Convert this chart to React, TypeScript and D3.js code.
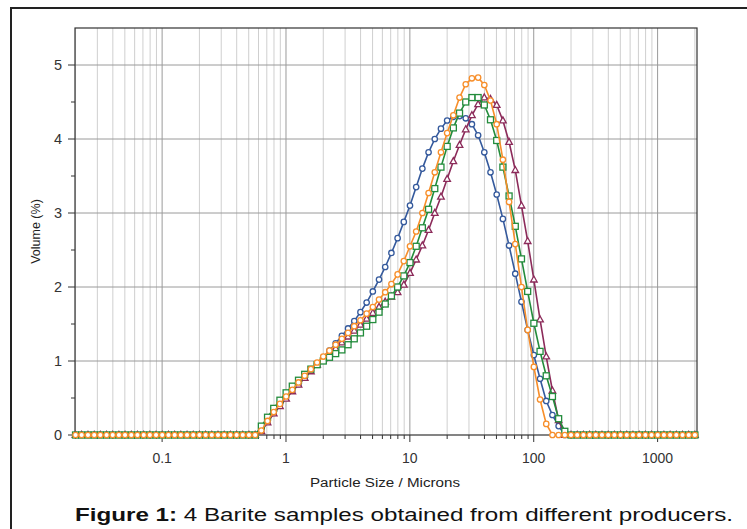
import React from "react";
import * as d3 from "d3";

// size classes (microns), 0.02 -> 2000
const sizeClasses = [
  0.02, 0.0224, 0.0252, 0.0283, 0.0317, 0.0356, 0.0399, 0.0448, 0.0502, 0.0564,
  0.0632, 0.071, 0.0796, 0.0893, 0.1002, 0.1125, 0.1262, 0.1416, 0.1589, 0.1783,
  0.2, 0.2244, 0.2518, 0.2825, 0.317, 0.3557, 0.3991, 0.4477, 0.5024, 0.5637,
  0.6325, 0.7096, 0.7962, 0.8934, 1.0024, 1.1247, 1.2619, 1.4159, 1.5887, 1.7825,
  2.0, 2.244, 2.5179, 2.8251, 3.1698, 3.5566, 3.9905, 4.4774, 5.0238, 5.6368,
  6.3246, 7.0963, 7.9621, 8.9337, 10.0237, 11.2468, 12.6191, 14.1589, 15.8866, 17.825,
  20.0, 22.4404, 25.1785, 28.2508, 31.6979, 35.5656, 39.9052, 44.7744, 50.2377, 56.3677,
  63.2456, 70.9627, 79.6214, 89.3367, 100.2374, 112.4683, 126.1915, 141.5892, 158.8656, 178.2502,
  200.0, 224.4037, 251.7851, 282.5075, 316.9786, 355.6559, 399.0525, 447.7442, 502.3773, 563.6766,
  632.4555, 709.6268, 796.214, 893.3672, 1002.3738, 1124.6827, 1261.9147, 1415.8916, 1588.6564, 1782.5018,
  2000.0,
];

const blueValues = [
  0, 0, 0, 0, 0, 0, 0, 0, 0, 0, 0, 0, 0, 0, 0, 0, 0, 0, 0, 0,
  0, 0, 0, 0, 0, 0, 0, 0, 0, 0, 0.07, 0.19, 0.3, 0.41, 0.51, 0.6, 0.69, 0.78, 0.87, 0.96,
  1.05, 1.14, 1.24, 1.34, 1.44, 1.54, 1.66, 1.79, 1.94, 2.1, 2.27, 2.46, 2.66, 2.88, 3.1, 3.35, 3.6, 3.82, 4.0, 4.14,
  4.25, 4.3, 4.31, 4.28, 4.2, 4.05, 3.82, 3.55, 3.25, 2.92, 2.56, 2.18, 1.8, 1.42, 1.08, 0.76, 0.46, 0.27, 0.12, 0,
  0, 0, 0, 0, 0, 0, 0, 0, 0, 0, 0, 0, 0, 0, 0, 0, 0, 0, 0, 0, 0,
];

const maroonValues = [
  0, 0, 0, 0, 0, 0, 0, 0, 0, 0, 0, 0, 0, 0, 0, 0, 0, 0, 0, 0,
  0, 0, 0, 0, 0, 0, 0, 0, 0, 0, 0.05, 0.17, 0.29, 0.39, 0.49, 0.59, 0.68, 0.77, 0.86, 0.95,
  1.03, 1.1, 1.17, 1.25, 1.33, 1.41, 1.49, 1.57, 1.65, 1.73, 1.8, 1.87, 1.93, 2.03, 2.19, 2.37, 2.56, 2.77, 3.0, 3.22,
  3.46, 3.7, 3.92, 4.13, 4.32, 4.47, 4.56, 4.54, 4.46, 4.25, 3.96, 3.58, 3.1, 2.62, 2.1, 1.56, 1.06, 0.6, 0.2, 0,
  0, 0, 0, 0, 0, 0, 0, 0, 0, 0, 0, 0, 0, 0, 0, 0, 0, 0, 0, 0, 0,
];

const greenValues = [
  0, 0, 0, 0, 0, 0, 0, 0, 0, 0, 0, 0, 0, 0, 0, 0, 0, 0, 0, 0,
  0, 0, 0, 0, 0, 0, 0, 0, 0, 0, 0.12, 0.24, 0.36, 0.47, 0.57, 0.66, 0.74, 0.82, 0.89, 0.95,
  1.0, 1.05, 1.1, 1.15, 1.22, 1.3, 1.38, 1.47, 1.56, 1.66, 1.77, 1.88, 2.0, 2.15, 2.33, 2.55, 2.8, 3.05, 3.33, 3.62,
  3.9, 4.15, 4.35, 4.5, 4.56, 4.56, 4.46, 4.26, 3.98, 3.62, 3.23, 2.82, 2.38, 1.94, 1.51, 1.13, 0.8, 0.52, 0.22, 0.05,
  0, 0, 0, 0, 0, 0, 0, 0, 0, 0, 0, 0, 0, 0, 0, 0, 0, 0, 0, 0, 0,
];

const orangeValues = [
  0, 0, 0, 0, 0, 0, 0, 0, 0, 0, 0, 0, 0, 0, 0, 0, 0, 0, 0, 0,
  0, 0, 0, 0, 0, 0, 0, 0, 0, 0, 0.06, 0.19, 0.31, 0.42, 0.52, 0.61, 0.71, 0.8, 0.89, 0.98,
  1.06, 1.14, 1.22, 1.3, 1.38, 1.47, 1.55, 1.64, 1.73, 1.83, 1.93, 2.04, 2.17, 2.35, 2.55, 2.75, 3.0, 3.27, 3.55, 3.82,
  4.08, 4.32, 4.56, 4.74, 4.82, 4.83, 4.73, 4.52, 4.2, 3.72, 3.15, 2.58, 2.0, 1.42, 0.92, 0.48, 0.15, 0, 0, 0,
  0, 0, 0, 0, 0, 0, 0, 0, 0, 0, 0, 0, 0, 0, 0, 0, 0, 0, 0, 0, 0,
];

const xTickLabels = ["0.1", "1", "10", "100", "1000"];
const yTickLabels = ["0", "1", "2", "3", "4", "5"];

const seriesList = [
  { name: "blue", values: blueValues, color: "#34599c", marker: "circle" },
  { name: "maroon", values: maroonValues, color: "#8c2b5a", marker: "triangle" },
  { name: "green", values: greenValues, color: "#238c3c", marker: "square" },
  { name: "orange", values: orangeValues, color: "#f78e2a", marker: "circle" },
];

const W = 747;
const H = 529;
const left = 75, right = 697, top = 28, bottom = 435;

export default function App() {
  const x = d3.scaleLog().domain([0.0198, 2080]).range([left, right]);
  const y = d3.scaleLinear().domain([0, 5.5]).range([bottom, top]);
  const font = "'Liberation Sans', Arial, sans-serif";

  // log grid: 2..9 x 10^k, decades separately
  const decades = [0.01, 0.1, 1, 10, 100, 1000];
  const minors: number[] = [];
  decades.forEach(dec => {
    for (let m = 2; m <= 9; m++) {
      const v = m * dec;
      if (v > 0.0199 && v < 2080) minors.push(v);
    }
  });
  const majors = xTickLabels.map(Number);
  const yMinor = [0.5, 1.5, 2.5, 3.5, 4.5];

  const line = d3.line<number>()
    .x((_, i) => x(sizeClasses[i]))
    .y(d => y(d));

  const marker = (kind: string, cx: number, cy: number, color: string, key: number) => {
    if (kind === "square")
      return <rect key={key} x={cx - 3} y={cy - 3} width={6} height={6} fill="#fff" stroke={color} strokeWidth={1.3} />;
    if (kind === "triangle")
      return <path key={key} d={`M${cx},${cy - 3.6}L${cx + 3.3},${cy + 2.4}L${cx - 3.3},${cy + 2.4}Z`} fill="#fff" stroke={color} strokeWidth={1.3} />;
    return <circle key={key} cx={cx} cy={cy} r={2.7} fill="#fff" stroke={color} strokeWidth={1.3} />;
  };

  return (
    <svg width={W} height={H} style={{ position: "absolute", left: 0, top: 0, background: "#fff" }} fontFamily={font}>
      <rect x={0} y={0} width={W} height={H} fill="#fff" />
      {/* outer frame */}
      <rect x={11} y={8} width={780} height={620} fill="none" stroke="#222" strokeWidth={2} />

      {/* grid */}
      {minors.map(v => (
        <line key={"mn" + v} x1={x(v)} x2={x(v)} y1={top} y2={bottom} stroke="#cfcfcf" strokeWidth={1} />
      ))}
      {majors.map(v => (
        <line key={"mj" + v} x1={x(v)} x2={x(v)} y1={top} y2={bottom} stroke="#9a9a9a" strokeWidth={1} />
      ))}
      {[1, 2, 3, 4, 5].map(v => (
        <line key={"hy" + v} x1={left} x2={right} y1={y(v)} y2={y(v)} stroke="#9a9a9a" strokeWidth={1} />
      ))}

      {/* plot box */}
      <rect x={left} y={top} width={right - left} height={bottom - top} fill="none" stroke="#333" strokeWidth={1.2} />

      {/* x ticks */}
      {minors.map(v => (
        <line key={"xt" + v} x1={x(v)} x2={x(v)} y1={bottom} y2={bottom + 4} stroke="#333" />
      ))}
      {majors.map((v, i) => (
        <g key={"xl" + v}>
          <line x1={x(v)} x2={x(v)} y1={bottom} y2={bottom + 7} stroke="#333" />
          <text x={x(v)} y={463} textAnchor="middle" fontSize={14} fill="#333">{xTickLabels[i]}</text>
        </g>
      ))}

      {/* y ticks */}
      {yTickLabels.map(t => (
        <g key={"yl" + t}>
          <line x1={left - 7} x2={left} y1={y(+t)} y2={y(+t)} stroke="#333" />
          <text x={62} y={y(+t) + 5} textAnchor="end" fontSize={14.5} fill="#333">{t}</text>
        </g>
      ))}
      {yMinor.map(v => (
        <line key={"ym" + v} x1={left - 4} x2={left} y1={y(v)} y2={y(v)} stroke="#333" />
      ))}

      {/* series */}
      {seriesList.map(s => (
        <g key={s.name}>
          <path d={line(s.values) || ""} fill="none" stroke={s.color} strokeWidth={1.6} />
          {s.values.map((v, i) => marker(s.marker, x(sizeClasses[i]), y(v), s.color, i))}
        </g>
      ))}

      {/* axis titles */}
      <text x={385} y={487} textAnchor="middle" fontSize={12.5} fill="#222" textLength={150} lengthAdjust="spacingAndGlyphs">
        Particle Size / Microns
      </text>
      <text transform={`translate(40, ${(top + bottom) / 2}) rotate(-90)`} textAnchor="middle" fontSize={12.5} fill="#222">
        Volume (%)
      </text>

      {/* caption */}
      <text x={75} y={521} fontSize={17.5} fill="#111" textLength={658} lengthAdjust="spacingAndGlyphs">
        <tspan fontWeight="bold">Figure 1:</tspan> 4 Barite samples obtained from different producers.
      </text>
    </svg>
  );
}
